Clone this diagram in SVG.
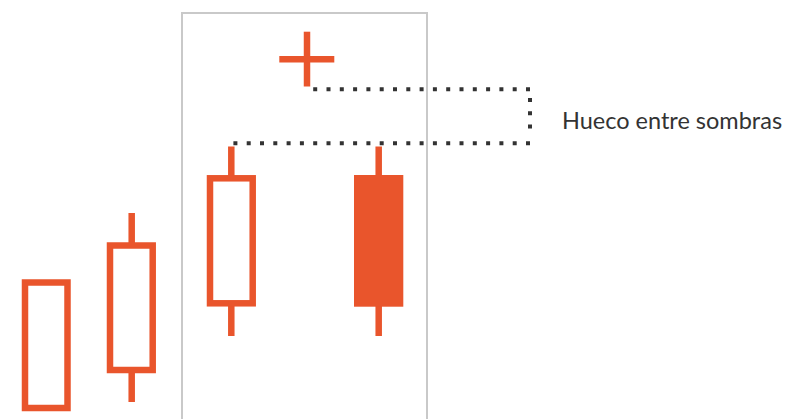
<svg xmlns="http://www.w3.org/2000/svg" width="785" height="419" viewBox="0 0 785 419">
  <style>
    .frame { fill: none; stroke: #c9c9c9; stroke-width: 2; }
    .wick { stroke: #e9552c; stroke-width: 6.5; fill: none; }
    .hollow { fill: #ffffff; stroke: #e9552c; stroke-width: 6.5; }
    .solid { fill: #e9552c; stroke: none; }
    .dots { fill: none; stroke: #333333; stroke-width: 4; stroke-dasharray: 4 9.3; }
    .label { font-family: Lato, "Noto Sans", "Liberation Sans", sans-serif; font-size: 23.5px; fill: #333333; }
  </style>
  <rect class="frame" x="182" y="13" width="245" height="420"/>
  <g id="candle1">
    <rect class="hollow" x="25" y="282.5" width="42.5" height="125.5"/>
  </g>
  <g id="candle2">
    <line class="wick" x1="131.7" y1="213" x2="131.7" y2="402"/>
    <rect class="hollow" x="110" y="245.5" width="42.7" height="124.5"/>
  </g>
  <g id="candle3">
    <line class="wick" x1="231.3" y1="146.5" x2="231.3" y2="336"/>
    <rect class="hollow" x="210" y="178.3" width="42.7" height="125"/>
  </g>
  <g id="candle4">
    <line class="wick" x1="378.7" y1="146.5" x2="378.7" y2="336"/>
    <rect class="solid" x="354" y="175" width="49.3" height="131.7"/>
  </g>
  <g id="cross">
    <line class="wick" x1="307" y1="31.7" x2="307" y2="86.5"/>
    <line class="wick" x1="279.3" y1="59.2" x2="334.3" y2="59.2"/>
  </g>
  <g id="connectors">
    <path class="dots" d="M530,89.3 H306"/>
    <path class="dots" d="M530,143.3 H229"/>
    <path class="dots" d="M530,98 V138"/>
  </g>
  <g id="label">
    <text class="label" x="562" y="129.3">Hueco entre sombras</text>
  </g>
</svg>
